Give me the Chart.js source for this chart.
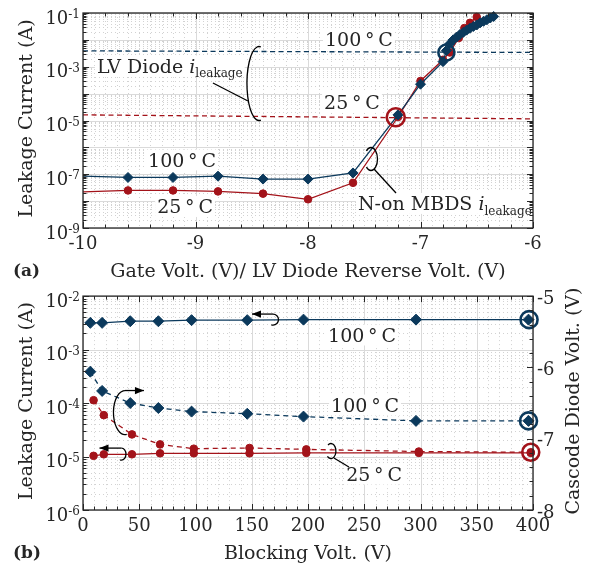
<!DOCTYPE html>
<html>
<head>
<meta charset="utf-8">
<title>Leakage current</title>
<script src="https://cdn.jsdelivr.net/npm/chart.js@4.4.1/dist/chart.umd.min.js"></script>
<style>
  body { margin: 0; background: #fff; }
  #wrap { position: relative; width: 593px; height: 567px; }
  canvas { position: absolute; left: 0; }
  #chartA { top: 0; }
  #chartB { top: 285px; }
</style>
</head>
<body>
<div id="wrap">
  <canvas id="chartA" width="593" height="285"></canvas>
  <canvas id="chartB" width="593" height="282"></canvas>
</div>
<script>
// ---- (a) N-on MBDS leakage vs gate volt. ----
const gate100 = [-10, -9.6, -9.2, -8.8, -8.4, -8.0, -7.6, -7.2, -7.0, -6.8, -6.77, -6.74, -6.71, -6.68, -6.65, -6.62, -6.59, -6.56, -6.53, -6.50, -6.47, -6.44, -6.41, -6.38, -6.35];
const mbds100 = [8.5e-8, 7.6e-8, 7.6e-8, 8.5e-8, 6.6e-8, 6.6e-8, 1.12e-7, 1.62e-5, 2.24e-4, 1.55e-3, 3.98e-3, 7.1e-3, 1.0e-2, 1.26e-2, 1.58e-2, 1.9e-2, 2.3e-2, 2.7e-2, 3.16e-2, 3.6e-2, 4.3e-2, 4.9e-2, 5.6e-2, 6.5e-2, 7.4e-2];
const gate25 = [-10, -9.6, -9.2, -8.8, -8.4, -8.0, -7.6, -7.2, -7.0, -6.8, -6.74, -6.66, -6.61, -6.56, -6.50];
const mbds25 = [2.2e-8, 2.5e-8, 2.5e-8, 2.3e-8, 1.9e-8, 1.17e-8, 4.8e-8, 1.35e-5, 2.95e-4, 1.82e-3, 3.4e-3, 1.17e-2, 2.75e-2, 4.3e-2, 7.1e-2];
// LV diode leakage (dashed)
const lvX = [-10, -6];
const lv100 = [3.9e-3, 3.4e-3];
const lv25 = [1.62e-5, 1.15e-5];
// crossings, open circles
const crossX = [-6.77, -7.22];
const crossI = [3.4e-3, 1.32e-5];

const gateTicks = [-10, -9, -8, -7, -6];
const gateTickLabels = ['-10', '-9', '-8', '-7', '-6'];
const decadesA = [-9, -8, -7, -6, -5, -4, -3, -2, -1];
const labelledA = [-9, -7, -5, -3, -1];

// ---- (b) vs blocking volt. ----
const block100 = [6.5, 17, 42, 67, 96.5, 146, 196, 296, 396];
const i100 = [3.16e-3, 3.16e-3, 3.39e-3, 3.39e-3, 3.55e-3, 3.55e-3, 3.63e-3, 3.63e-3, 3.63e-3];
const v100 = [-6.06, -6.33, -6.5, -6.57, -6.62, -6.65, -6.69, -6.75, -6.75];
const block25 = [9.4, 18.5, 43.5, 68.5, 98.5, 148, 198.5, 298.5, 398];
const i25 = [1.03e-5, 1.1e-5, 1.1e-5, 1.15e-5, 1.15e-5, 1.15e-5, 1.17e-5, 1.17e-5, 1.17e-5];
const v25 = [-6.46, -6.67, -6.94, -7.08, -7.14, -7.13, -7.15, -7.18, -7.19];
const ringX = [396.5, 396, 398];
const ringV = [-5.33, -6.75, -7.19];

const blockTicks = [0, 50, 100, 150, 200, 250, 300, 350, 400];
const blockTickLabels = ['0', '50', '100', '150', '200', '250', '300', '350', '400'];
const decadesB = [-6, -5, -4, -3, -2];
const cascodeTicks = [-5, -6, -7, -8];
const cascodeTickLabels = ['-5', '-6', '-7', '-8'];

const FONT = '"DejaVu Serif", "Liberation Serif", serif';
const INK = '#262626';
const BLUE = '#0b395c';
const RED = '#a3131a';

function setFont(ctx, size, style) {
    ctx.font = (style ? style + ' ' : '') + size + 'px ' + FONT;
}

// text made of runs: {t, it, bold, sup, sub}
function textRuns(ctx, parts, x, cy, size, align, box) {
    let w = 0;
    const m = parts.map(p => {
        const s = (p.sup || p.sub) ? Math.round(size * 0.64) : size;
        const st = (p.it ? 'italic ' : '') + (p.bold ? 'bold' : '');
        setFont(ctx, s, st.trim());
        const pw = ctx.measureText(p.t).width;
        w += pw;
        return { p, s, st, pw };
    });
    let cx = align === 'right' ? x - w : align === 'center' ? x - w / 2 : x;
    if (box) {
        ctx.fillStyle = '#fff';
        ctx.fillRect(cx - 2, cy - size * 0.55, w + 4, size * 1.1);
    }
    ctx.fillStyle = INK;
    ctx.textAlign = 'left';
    ctx.textBaseline = 'alphabetic';
    const base = cy + size * 0.365;
    m.forEach(({ p, s, st, pw }) => {
        setFont(ctx, s, st.trim());
        const dy = p.sup ? -size * 0.3 : p.sub ? size * 0.22 : 0;
        ctx.fillText(p.t, cx, base + dy);
        cx += pw;
    });
}

function seg(ctx, x1, y1, x2, y2) {
    ctx.beginPath();
    ctx.moveTo(x1, y1);
    ctx.lineTo(x2, y2);
    ctx.stroke();
}

function arrowHead(ctx, x1, y1, x2, y2) {
    const ang = Math.atan2(y2 - y1, x2 - x1), L = 9, W = 3.6;
    const c = Math.cos(ang), s = Math.sin(ang);
    ctx.beginPath();
    ctx.moveTo(x2, y2);
    ctx.lineTo(x2 - L * c + W * s, y2 - L * s - W * c);
    ctx.lineTo(x2 - L * c - W * s, y2 - L * s + W * c);
    ctx.closePath();
    ctx.fill();
}

function range(a, b, step) {
    const out = [];
    for (let v = a; v <= b + 1e-9; v += step) out.push(Math.round(v * 1000) / 1000);
    return out;
}

function logMinor(decades) {
    const out = [];
    decades.slice(0, -1).forEach(d => { for (let k = 2; k <= 9; k++) out.push(k * Math.pow(10, d)); });
    return out;
}

const deg = t => [{ t: t + '\u2009°\u2009C' }];
const ileak = [{ t: 'i', it: true }, { t: 'leakage', sub: true }];

// axes, grid, ticks, texts and leader marks in MATLAB style
function matlabAxes(cfg) {
    return {
        id: 'matlabAxes',
        beforeDatasetsDraw(chart) {
            const { ctx, chartArea: a, scales } = chart;
            const X = scales.x, Y = scales.y;
            ctx.save();
            ctx.lineWidth = 1;
            const vl = v => { const p = Math.round(X.getPixelForValue(v)) + 0.5; seg(ctx, p, a.top, p, a.bottom); };
            const hl = v => { const p = Math.round(Y.getPixelForValue(v)) + 0.5; seg(ctx, a.left, p, a.right, p); };
            ctx.strokeStyle = '#d2d2d2';
            ctx.setLineDash([1, 3]);
            cfg.xGrid.forEach(vl);
            cfg.yMinor.forEach(hl);
            ctx.setLineDash([]);
            ctx.strokeStyle = '#dadada';
            cfg.xMajor.forEach(vl);
            cfg.yMajor.forEach(hl);
            cfg.texts.forEach(t => {
                const py = scales[t.axis || 'y'].getPixelForValue(t.y);
                textRuns(ctx, t.parts, X.getPixelForValue(t.x), py, 19, t.align, true);
            });
            ctx.restore();
        },
        afterDatasetsDraw(chart) {
            const { ctx, chartArea: a, scales } = chart;
            const X = scales.x, Y = scales.y;
            ctx.save();
            // leader marks
            ctx.strokeStyle = '#000';
            ctx.fillStyle = '#000';
            ctx.lineWidth = 1.3;
            cfg.shapes.forEach(s => {
                const px = X.getPixelForValue(s.x), py = scales[s.axis || 'y'].getPixelForValue(s.y);
                if (s.kind === 'ring') {
                    ctx.beginPath();
                    ctx.ellipse(px, py, s.rx, s.ry, 0, s.a0 * Math.PI, s.a1 * Math.PI);
                    ctx.stroke();
                } else {
                    const x1 = px + s.from[0], y1 = py + s.from[1], x2 = px + s.to[0], y2 = py + s.to[1];
                    seg(ctx, x1, y1, x2, y2);
                    if (s.kind === 'arrow') arrowHead(ctx, x1, y1, x2, y2);
                }
            });
            // ticks, inward
            ctx.strokeStyle = INK;
            ctx.lineWidth = 1;
            const tx = (v, len) => {
                const p = Math.round(X.getPixelForValue(v)) + 0.5;
                seg(ctx, p, a.bottom, p, a.bottom - len);
                seg(ctx, p, a.top, p, a.top + len);
            };
            const ty = (sc, v, len, left, right) => {
                const p = Math.round(sc.getPixelForValue(v)) + 0.5;
                if (left) seg(ctx, a.left, p, a.left + len, p);
                if (right) seg(ctx, a.right, p, a.right - len, p);
            };
            cfg.xTickMinor.forEach(v => tx(v, 3.5));
            cfg.xMajor.forEach(v => tx(v, 6));
            cfg.yMinor.forEach(v => ty(Y, v, 3.5, true, !cfg.y2));
            cfg.yMajor.forEach(v => ty(Y, v, 6, true, !cfg.y2));
            if (cfg.y2) {
                cfg.y2.minor.forEach(v => ty(scales.y2, v, 3.5, false, true));
                cfg.y2.ticks.forEach(v => ty(scales.y2, v, 6, false, true));
            }
            ctx.lineWidth = 1.3;
            ctx.strokeRect(a.left, a.top, a.right - a.left, a.bottom - a.top);
            // tick labels
            cfg.xLabels.forEach((t, i) => {
                textRuns(ctx, [{ t }], X.getPixelForValue(cfg.xMajor[i]), a.bottom + 14.5, 18, 'center');
            });
            cfg.yLabels.forEach(e => {
                textRuns(ctx, [{ t: '10' }, { t: '-' + Math.abs(e), sup: true }], a.left - 3, Y.getPixelForValue(Math.pow(10, e)) + 4, 18, 'right');
            });
            if (cfg.y2) {
                cfg.y2.labels.forEach((t, i) => {
                    textRuns(ctx, [{ t }], a.right + 4, scales.y2.getPixelForValue(cfg.y2.ticks[i]) + 1, 18, 'left');
                });
            }
            // titles
            const midX = (a.left + a.right) / 2, midY = (a.top + a.bottom) / 2;
            textRuns(ctx, [{ t: cfg.xTitle }], midX, a.bottom + 42, 19, 'center');
            textRuns(ctx, [{ t: cfg.tag, bold: true }], 13, a.bottom + 42, 17, 'left');
            const vTitle = (t, x) => {
                ctx.save();
                ctx.translate(x, midY - 2);
                ctx.rotate(-Math.PI / 2);
                textRuns(ctx, [{ t }], 0, 0, 19, 'center');
                ctx.restore();
            };
            vTitle(cfg.yTitle, 25);
            if (cfg.y2) vTitle(cfg.y2.title, a.right + 39);
            ctx.restore();
        }
    };
}

function pts(xs, ys) {
    return xs.map((x, i) => ({ x, y: ys[i] }));
}

const baseOptions = (pad, scales) => ({
    responsive: false,
    animation: false,
    events: [],
    layout: { padding: pad },
    plugins: { legend: { display: false }, tooltip: { enabled: false } },
    elements: { line: { tension: 0, fill: false } },
    scales
});

// ---------- chart (a) ----------
const cfgA = {
    xMajor: gateTicks,
    xLabels: gateTickLabels,
    xTickMinor: range(-10, -6, 0.2).filter(v => !gateTicks.includes(v)),
    xGrid: range(-10, -6, 0.1).filter(v => !gateTicks.includes(v)),
    yMajor: decadesA.map(d => Math.pow(10, d)),
    yMinor: logMinor(decadesA),
    yLabels: labelledA,
    xTitle: 'Gate Volt. (V)/ LV Diode Reverse Volt. (V)',
    yTitle: 'Leakage Current (A)',
    tag: '(a)',
    texts: [
        { x: -7.547, y: 1.03e-2, align: 'center', parts: deg('100') },
        { x: -7.609, y: 4.67e-5, align: 'center', parts: deg('25') },
        { x: -9.876, y: 1.07e-3, align: 'left', parts: [{ t: 'LV Diode ' }, ...ileak] },
        { x: -9.12, y: 3.39e-7, align: 'center', parts: deg('100') },
        { x: -9.093, y: 6.3e-9, align: 'center', parts: deg('25') },
        { x: -7.556, y: 8.2e-9, align: 'left', parts: [{ t: 'N-on MBDS ' }, ...ileak] }
    ],
    shapes: [
        { kind: 'ring', x: -8.436, y: 2.38e-4, rx: 12, ry: 37, a0: 0.45, a1: 1.55 },
        { kind: 'line', x: -8.436, y: 2.38e-4, from: [-11, 17.5], to: [-46, -0.5] },
        { kind: 'ring', x: -7.44, y: 3.69e-7, rx: 6.5, ry: 11.5, a0: 1.25, a1: 2.75 },
        { kind: 'line', x: -7.44, y: 3.69e-7, from: [3, 10], to: [25, 34] }
    ]
};

new Chart(document.getElementById('chartA'), {
    type: 'line',
    data: {
        datasets: [
            { data: pts(crossX, crossI), showLine: false, clip: false, pointStyle: 'circle', pointRadius: [8, 9], pointBorderWidth: 2.6,
              pointBorderColor: [BLUE, RED], pointBackgroundColor: 'rgba(0,0,0,0)' },
            { data: pts(gate100, mbds100), clip: false, borderColor: BLUE, backgroundColor: BLUE, borderWidth: 1.3,
              pointStyle: 'rectRot', pointRadius: gate100.map(x => x <= -10 ? 0 : 5), pointBorderWidth: 1 },
            { data: pts(gate25, mbds25), clip: false, borderColor: RED, backgroundColor: RED, borderWidth: 1.3,
              pointStyle: 'circle', pointRadius: gate25.map(x => x <= -10 ? 0 : 3.8), pointBorderWidth: 1 },
            { data: pts(lvX, lv100), clip: false, borderColor: BLUE, borderWidth: 1.3, borderDash: [5, 3.5], pointRadius: 0 },
            { data: pts(lvX, lv25), clip: false, borderColor: RED, borderWidth: 1.3, borderDash: [5, 3.5], pointRadius: 0 }
        ]
    },
    options: baseOptions({ left: 83, top: 13, right: 60, bottom: 57 }, {
        x: { type: 'linear', min: -10, max: -6, display: false },
        y: { type: 'logarithmic', min: 1e-9, max: 1e-1, display: false }
    }),
    plugins: [matlabAxes(cfgA)]
});

// ---------- chart (b) ----------
const cfgB = {
    xMajor: blockTicks,
    xLabels: blockTickLabels,
    xTickMinor: range(0, 400, 10).filter(v => !blockTicks.includes(v)),
    xGrid: range(0, 400, 10).filter(v => !blockTicks.includes(v)),
    yMajor: decadesB.map(d => Math.pow(10, d)),
    yMinor: logMinor(decadesB),
    yLabels: decadesB,
    y2: {
        ticks: cascodeTicks,
        labels: cascodeTickLabels,
        minor: range(-8, -5, 0.2).filter(v => !cascodeTicks.includes(v)),
        title: 'Cascode Diode Volt. (V)'
    },
    xTitle: 'Blocking Volt. (V)',
    yTitle: 'Leakage Current (A)',
    tag: '(b)',
    texts: [
        { x: 248, y: 1.87e-3, align: 'center', parts: deg('100') },
        { x: 250.7, y: 9.2e-5, align: 'center', parts: deg('100') },
        { x: 258.7, y: 4.7e-6, align: 'center', parts: deg('25') }
    ],
    shapes: [
        { kind: 'ring', x: 168.9, y: 3.64e-3, rx: 5.5, ry: 5.5, a0: 1.5, a1: 2.6 },
        { kind: 'arrow', x: 168.9, y: 3.64e-3, from: [0, -5.5], to: [-21, -5.5] },
        { kind: 'ring', x: 37.3, y: -6.633, axis: 'y2', rx: 11.5, ry: 22, a0: 0.45, a1: 1.5 },
        { kind: 'arrow', x: 37.3, y: -6.633, axis: 'y2', from: [0, -22], to: [19, -22] },
        { kind: 'ring', x: 34.2, y: 1.11e-5, rx: 4.5, ry: 6, a0: 1.5, a1: 2.6 },
        { kind: 'arrow', x: 34.2, y: 1.11e-5, from: [0, -6], to: [-22, -6] },
        { kind: 'ring', x: 220.4, y: -7.173, axis: 'y2', rx: 5, ry: 7.5, a0: 1.3, a1: 2.75 },
        { kind: 'line', x: 220.4, y: -7.173, axis: 'y2', from: [3, 7], to: [18, 16] }
    ]
};

new Chart(document.getElementById('chartB'), {
    type: 'line',
    data: {
        datasets: [
            { data: pts(ringX, ringV), yAxisID: 'y2', showLine: false, clip: false, pointStyle: 'circle', pointRadius: 8.5, pointBorderWidth: 2.6,
              pointBorderColor: [BLUE, BLUE, RED], pointBackgroundColor: 'rgba(0,0,0,0)' },
            { data: pts(block100, i100), yAxisID: 'y', clip: false, borderColor: BLUE, backgroundColor: BLUE, borderWidth: 1.3,
              pointStyle: 'rectRot', pointRadius: 5.5, pointBorderWidth: 1 },
            { data: pts(block100, v100), yAxisID: 'y2', clip: false, borderColor: BLUE, backgroundColor: BLUE, borderWidth: 1.3,
              borderDash: [5, 4], pointStyle: 'rectRot', pointRadius: 5.5, pointBorderWidth: 1 },
            { data: pts(block25, i25), yAxisID: 'y', clip: false, borderColor: RED, backgroundColor: RED, borderWidth: 1.3,
              pointStyle: 'circle', pointRadius: 3.8, pointBorderWidth: 1 },
            { data: pts(block25, v25), yAxisID: 'y2', clip: false, borderColor: RED, backgroundColor: RED, borderWidth: 1.3,
              borderDash: [5, 4], pointStyle: 'circle', pointRadius: 3.8, pointBorderWidth: 1 }
        ]
    },
    options: baseOptions({ left: 83, top: 11, right: 60, bottom: 57 }, {
        x: { type: 'linear', min: 0, max: 400, display: false },
        y: { type: 'logarithmic', min: 1e-6, max: 1e-2, display: false },
        y2: { type: 'linear', min: -8, max: -5, display: false }
    }),
    plugins: [matlabAxes(cfgB)]
});
</script>
</body>
</html>
